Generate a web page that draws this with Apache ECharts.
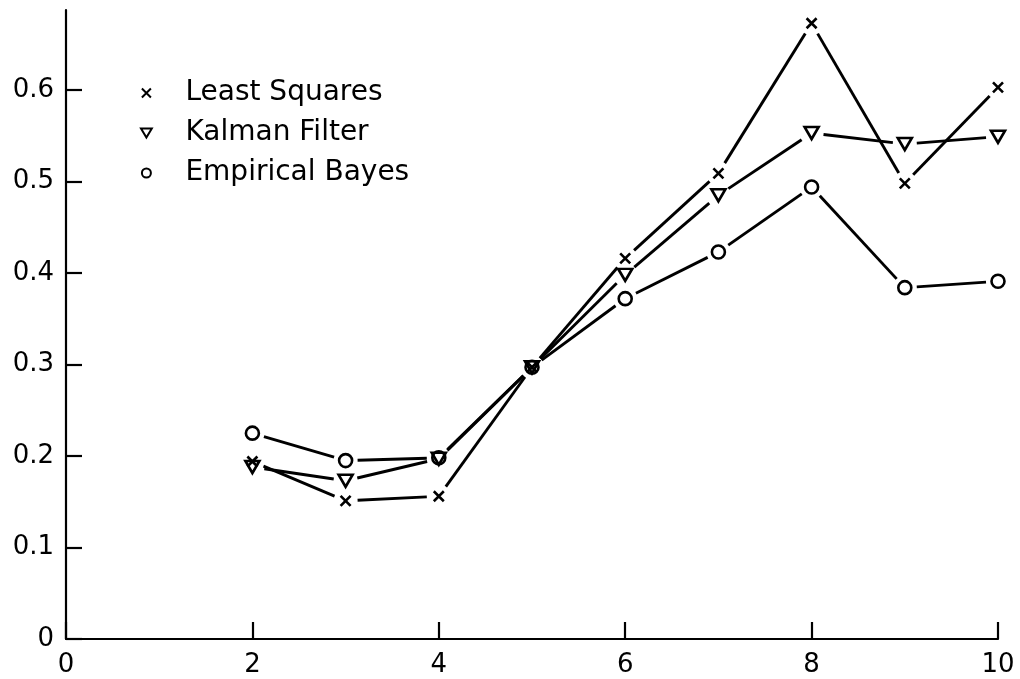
<!DOCTYPE html>
<html><head><meta charset="utf-8">
<script src="https://cdn.jsdelivr.net/npm/echarts@6/dist/echarts.min.js"></script>
<style>html,body{margin:0;padding:0;background:#fff}#c{width:1020px;height:679px}</style>
</head><body><div id="c"></div>
<script>
const xValues = [2, 3, 4, 5, 6, 7, 8, 9, 10];
const leastSquares = [0.194, 0.151, 0.156, 0.297, 0.416, 0.509, 0.673, 0.498, 0.603];
const kalmanFilter = [0.188, 0.173, 0.197, 0.297, 0.398, 0.485, 0.553, 0.541, 0.549];
const empiricalBayes = [0.225, 0.195, 0.198, 0.297, 0.372, 0.423, 0.494, 0.384, 0.391];
const seriesNames = ['Least Squares', 'Kalman Filter', 'Empirical Bayes'];
const yTickValues = [0, 0.1, 0.2, 0.3, 0.4, 0.5, 0.6];
const xTickValues = [0, 2, 4, 6, 8, 10];

const FONT = 'DejaVu Sans';
const GAP = 12;
const seriesValues = [leastSquares, kalmanFilter, empiricalBayes];
const symbols = [
  { symbol: 'path://M0,0L10,10M10,0L0,10', size: 10 },
  { symbol: 'path://M0,0L12,0L6,10Z', size: [14, 12] },
  { symbol: 'circle', size: 13 }
];
const pairs = vals => xValues.map((x, i) => [x, vals[i]]);
const segments = vals => xValues.slice(0, -1).map((x, i) => [x, vals[i], xValues[i + 1], vals[i + 1]]);

function renderSegment(params, api) {
  const p1 = api.coord([api.value(0), api.value(1)]);
  const p2 = api.coord([api.value(2), api.value(3)]);
  const dx = p2[0] - p1[0], dy = p2[1] - p1[1];
  const len = Math.sqrt(dx * dx + dy * dy) || 1;
  const ux = dx / len, uy = dy / len;
  return {
    type: 'line',
    shape: { x1: p1[0] + ux * GAP, y1: p1[1] + uy * GAP, x2: p2[0] - ux * GAP, y2: p2[1] - uy * GAP },
    style: { stroke: '#000', lineWidth: 2.9, lineCap: 'butt' }
  };
}

const series = [];
seriesValues.forEach((vals, i) => {
  series.push({
    name: seriesNames[i] + ' line', type: 'custom', data: segments(vals),
    encode: { x: [0, 2], y: [1, 3] }, renderItem: renderSegment, z: 1, silent: true
  });
});
seriesValues.forEach((vals, i) => {
  series.push({
    name: seriesNames[i], type: 'scatter', data: pairs(vals),
    symbol: symbols[i].symbol, symbolSize: symbols[i].size, z: 6 + i,
    itemStyle: { color: 'transparent', borderColor: '#000', borderWidth: 2.6, opacity: 1 }
  });
});

const chart = echarts.init(document.getElementById('c'), null, { renderer: 'canvas' });
chart.setOption({
  animation: false,
  backgroundColor: '#fff',
  grid: { left: 66, right: 22, top: 10, bottom: 40, containLabel: false },
  legend: {
    orient: 'vertical', left: 140, top: 73, padding: 0, itemGap: 0,
    itemWidth: 68, itemHeight: 9, symbolKeepAspect: true,
    selectedMode: false,
    data: seriesNames,
    textStyle: { fontFamily: FONT, fontSize: 28, color: '#000', lineHeight: 40 }
  },
  xAxis: {
    type: 'value', min: 0, max: 10, interval: 2,
    splitLine: { show: false },
    axisLine: { show: true, lineStyle: { color: '#000', width: 2.2 } },
    axisTick: { show: true, inside: true, length: 17, lineStyle: { color: '#000', width: 2.2 } },
    axisLabel: { fontFamily: FONT, fontSize: 26, color: '#000', margin: 13,
      customValues: xTickValues, formatter: v => String(v) }
  },
  yAxis: {
    type: 'value', min: 0, max: 0.6875,
    splitLine: { show: false },
    axisLine: { show: true, lineStyle: { color: '#000', width: 2.2 } },
    axisTick: { show: true, inside: true, length: 16, customValues: yTickValues,
      lineStyle: { color: '#000', width: 2.2 } },
    axisLabel: { fontFamily: FONT, fontSize: 26, color: '#000', margin: 12,
      customValues: yTickValues,
      formatter: v => (Math.abs(v) < 1e-9 ? '0' : v.toFixed(1)) }
  },
  series: series
});
</script></body></html>
